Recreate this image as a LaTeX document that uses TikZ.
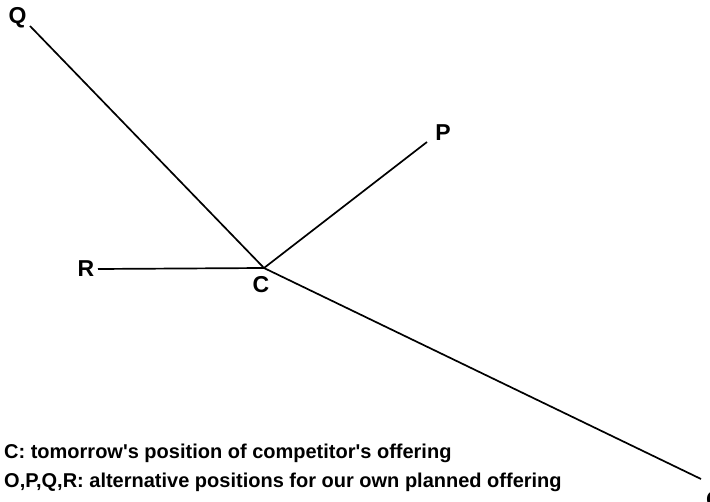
\documentclass[tikz,border=0pt]{standalone}
\usepackage{fontspec}
\setmainfont{Liberation Sans}
\begin{document}
\begin{tikzpicture}[x=1pt,y=-1pt,
  lbl/.style={font=\fontsize{23}{25}\selectfont\bfseries, inner sep=0pt},
  note/.style={font=\fontsize{20}{22}\selectfont\bfseries, inner sep=0pt, anchor=base west},
  conn/.style={line width=1.7pt}]
\useasboundingbox (0,0) rectangle (710,502);
\node[lbl] (Q) at (17.5,17.5) {Q};
\node[lbl] (P) at (443,133) {P};
\node[lbl] (R) at (86,269) {R};
\node[lbl] (C) at (261,285) {C};
\node[lbl] (O) at (715,500) {O};
\coordinate (c) at (264,268);
\coordinate (qe) at (30,26);
\coordinate (pe) at (427,142);
\coordinate (re) at (98,269);
\coordinate (oe) at (701,479);
\draw[conn] (qe) -- (c);
\draw[conn] (c) -- (pe);
\draw[conn] (re) -- (c);
\draw[conn] (c) -- (oe);
\node[note] (n1) at (4,459) {C: tomorrow\textquotesingle s position of competitor\textquotesingle s offering};
\node[note] (n2) at (4,488) {O,P,Q,R: alternative positions for our own planned offering};
\end{tikzpicture}
\end{document}
